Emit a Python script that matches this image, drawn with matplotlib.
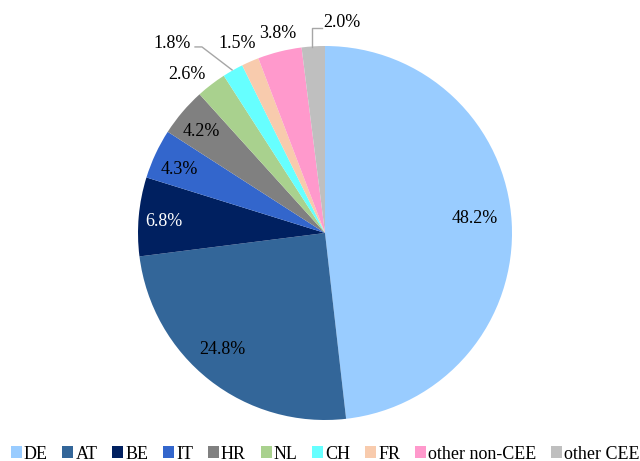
import matplotlib
matplotlib.use("Agg")
import matplotlib.pyplot as plt
import numpy as np

categories = ["DE", "AT", "BE", "IT", "HR", "NL", "CH", "FR", "other non-CEE", "other CEE"]
values = [48.2, 24.8, 6.8, 4.3, 4.2, 2.6, 1.8, 1.5, 3.8, 2.0]
colors = ["#99CCFF", "#336699", "#002060", "#3366CC", "#808080", "#A9D18E",
          "#66FFFF", "#F8CBAD", "#FF99CC", "#BFBFBF"]
text_colors = ["black", "black", "white", "black", "black", "black",
               "black", "black", "black", "black"]
# label centre positions in units of pie radius (layout)
label_pos = [(0.80, 0.08), (-0.55, -0.625), (-0.86, 0.06), (-0.78, 0.34),
             (-0.66, 0.545), (-0.74, 0.85), (-0.82, 1.015), (-0.47, 1.015),
             (-0.25, 1.065), (0.09, 1.125)]

plt.rcParams['font.family'] = ['Liberation Serif', 'DejaVu Serif']

W, H = 640, 461
fig = plt.figure(figsize=(W / 100, H / 100), dpi=100)
ax = fig.add_axes([0, 0, 1, 1])
R = 187.0
cx, cy = 325.0, H - 233.0

wedges, _ = ax.pie(values, colors=colors, startangle=90, counterclock=False,
                   radius=1.0, wedgeprops=dict(linewidth=0))
for v, (x, y), tc in zip(values, label_pos, text_colors):
    ax.text(x, y, f"{v:.1f}%", ha="center", va="center", fontsize=13, color=tc)

# leader lines
lc = "#A6A6A6"
ax.plot([-0.497, -0.658, -0.695], [0.872, 0.995, 0.995], color=lc, lw=1.0)
ax.plot([-0.07, -0.07, -0.017], [0.995, 1.098, 1.098], color=lc, lw=1.0)

ax.set_xlim(-cx / R, (W - cx) / R)
ax.set_ylim(-cy / R, (H - cy) / R)
ax.set_aspect("equal", adjustable="box")
ax.axis("off")

fig.legend(wedges, categories, loc="center", ncol=10, frameon=False,
           fontsize=13, handlelength=0.6, handleheight=0.6, handletextpad=0.12,
           columnspacing=0.82, borderpad=0.0, borderaxespad=0.0,
           bbox_to_anchor=(0.508, 1 - 454 / H))

fig.savefig("out.png", dpi=100)
